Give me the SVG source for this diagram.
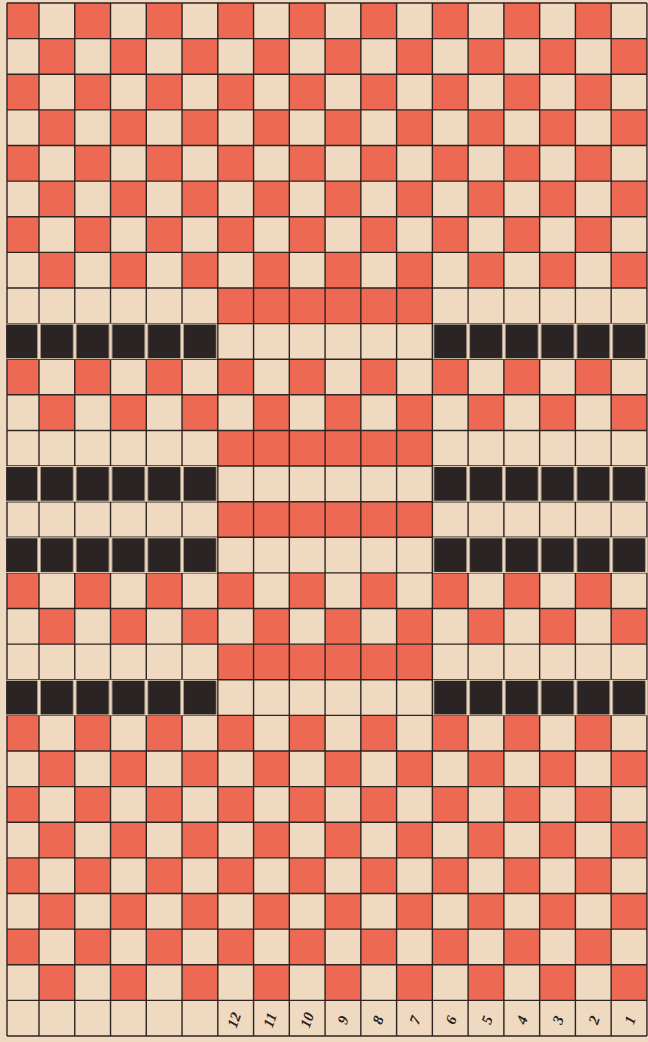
<svg xmlns="http://www.w3.org/2000/svg" width="648" height="1042" viewBox="0 0 648 1042">
<style>
.paper{fill:#EFD9C1}
.red{fill:#EE6953}
.grid{fill:none;stroke:#2E2420;stroke-width:1.4}
.num{font-family:"Liberation Serif","DejaVu Serif",serif;font-style:italic;font-weight:bold;font-size:15px;fill:#2A2220;text-anchor:middle;dominant-baseline:central}
</style>
<defs>
<pattern id="chk" patternUnits="userSpaceOnUse" x="3.24" y="3" width="71.52" height="71.24">
<rect x="0" y="0" width="35.76" height="35.62" fill="#EE6953"/>
<rect x="35.76" y="35.62" width="35.76" height="35.62" fill="#EE6953"/>
</pattern>
<pattern id="blk" patternUnits="userSpaceOnUse" x="3.24" y="3" width="35.76" height="35.62">
<rect x="0" y="0" width="35.76" height="35.62" fill="#EFD9C1"/>
<rect x="1.6" y="0.9" width="32.56" height="33.8" fill="#2B2424"/>
</pattern>
</defs>
<rect class="paper" x="0" y="0" width="648" height="1042"/>
<g id="checker-blocks">
<rect x="7" y="3" width="639.92" height="284.96" fill="url(#chk)"/>
<rect x="7" y="359.2" width="639.92" height="71.24" fill="url(#chk)"/>
<rect x="7" y="572.92" width="639.92" height="71.24" fill="url(#chk)"/>
<rect x="7" y="715.4" width="639.92" height="284.96" fill="url(#chk)"/>
</g>
<g id="middle-red-rows">
<rect class="red" x="217.8" y="287.96" width="214.56" height="35.62"/>
<rect class="red" x="217.8" y="430.44" width="214.56" height="35.62"/>
<rect class="red" x="217.8" y="501.68" width="214.56" height="35.62"/>
<rect class="red" x="217.8" y="644.16" width="214.56" height="35.62"/>
</g>
<g id="grid">
<path class="grid" d="M7 3V1036M39 3V1036M74.76 3V1036M110.52 3V1036M146.28 3V1036M182.04 3V1036M217.8 3V1036M253.56 3V1036M289.32 3V1036M325.08 3V1036M360.84 3V1036M396.6 3V1036M432.36 3V1036M468.12 3V1036M503.88 3V1036M539.64 3V1036M575.4 3V1036M611.16 3V1036M646.92 3V1036
M7 3H646.92M7 38.62H646.92M7 74.24H646.92M7 109.86H646.92M7 145.48H646.92M7 181.1H646.92M7 216.72H646.92M7 252.34H646.92M7 287.96H646.92M7 323.58H646.92M7 359.2H646.92M7 394.82H646.92M7 430.44H646.92M7 466.06H646.92M7 501.68H646.92M7 537.3H646.92M7 572.92H646.92M7 608.54H646.92M7 644.16H646.92M7 679.78H646.92M7 715.4H646.92M7 751.02H646.92M7 786.64H646.92M7 822.26H646.92M7 857.88H646.92M7 893.5H646.92M7 929.12H646.92M7 964.74H646.92M7 1000.36H646.92M7 1036H646.92"/>
</g>
<g id="black-rows">
<rect x="6.3" y="323.58" width="210.8" height="35.62" fill="url(#blk)"/>
<rect x="433.06" y="323.58" width="214.56" height="35.62" fill="url(#blk)"/>
<rect x="6.3" y="466.06" width="210.8" height="35.62" fill="url(#blk)"/>
<rect x="433.06" y="466.06" width="214.56" height="35.62" fill="url(#blk)"/>
<rect x="6.3" y="537.3" width="210.8" height="35.62" fill="url(#blk)"/>
<rect x="433.06" y="537.3" width="214.56" height="35.62" fill="url(#blk)"/>
<rect x="6.3" y="679.78" width="210.8" height="35.62" fill="url(#blk)"/>
<rect x="433.06" y="679.78" width="214.56" height="35.62" fill="url(#blk)"/>
</g>
<g id="numbers">
<text class="num" x="234" y="1020" transform="rotate(-70 234 1020)">12</text>
<text class="num" x="270" y="1020" transform="rotate(-70 270 1020)">11</text>
<text class="num" x="307" y="1020" transform="rotate(-70 307 1020)">10</text>
<text class="num" x="343" y="1020" transform="rotate(-70 343 1020)">9</text>
<text class="num" x="378" y="1020" transform="rotate(-70 378 1020)">8</text>
<text class="num" x="415" y="1020" transform="rotate(-70 415 1020)">7</text>
<text class="num" x="451" y="1020" transform="rotate(-70 451 1020)">6</text>
<text class="num" x="487" y="1020" transform="rotate(-70 487 1020)">5</text>
<text class="num" x="522" y="1020" transform="rotate(-70 522 1020)">4</text>
<text class="num" x="558" y="1020" transform="rotate(-70 558 1020)">3</text>
<text class="num" x="594" y="1020" transform="rotate(-70 594 1020)">2</text>
<text class="num" x="630" y="1020" transform="rotate(-70 630 1020)">1</text>
</g>
</svg>
